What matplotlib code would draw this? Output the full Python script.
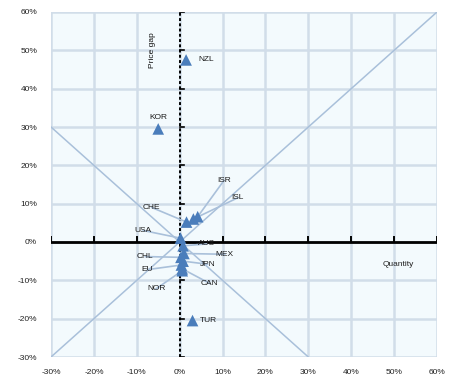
import matplotlib
matplotlib.use("Agg")
import matplotlib.pyplot as plt
from matplotlib.ticker import FuncFormatter

plt.rcParams['font.family'] = ['Liberation Sans', 'DejaVu Sans']

# Country data: quantity change (x) and price gap (y), in percent
countries = ["NZL", "KOR", "ISR", "ISL", "CHE", "USA", "AUS", "MEX", "JPN", "CAN", "CHL", "EU", "NOR", "TUR"]
quantity = [1.5, -5.0, 4.2, 3.2, 1.6, 0.2, 0.8, 1.0, 0.8, 0.6, 0.3, 0.4, 0.6, 3.0]
price_gap = [47.5, 29.5, 6.6, 6.0, 5.2, 1.0, -1.0, -3.0, -5.0, -7.0, -4.0, -6.0, -7.5, -20.5]

# Label anchor points (data coordinates) and whether a leader line is drawn
label_x = [4.3, -5.0, 10.3, 13.5, -6.5, -8.5, 6.3, 10.5, 6.5, 7.0, -8.0, -7.5, -5.5, 4.8]
label_y = [47.6, 32.5, 16.0, 11.5, 9.0, 3.0, -0.5, -3.2, -5.8, -10.8, -3.8, -7.2, -12.2, -20.5]
leader = [False, False, True, True, True, True, True, True, True, True, True, True, True, False]

ticks = [-30, -20, -10, 0, 10, 20, 30, 40, 50, 60]

fig = plt.figure(figsize=(4.49, 3.84), dpi=100)
ax = fig.add_axes([51 / 449, 1 - 357 / 384, 386 / 449, 345 / 384])
ax.set_facecolor("#f3fafd")
ax.set_xlim(-30, 60)
ax.set_ylim(-30, 60)

ax.set_xticks(ticks)
ax.set_yticks(ticks)
fmt = FuncFormatter(lambda v, p: f"{int(v)}%")
ax.xaxis.set_major_formatter(fmt)
ax.yaxis.set_major_formatter(fmt)
ax.tick_params(length=0, labelsize=6, colors="#222222")
ax.tick_params(axis="x", pad=9)
ax.tick_params(axis="y", pad=10)
ax.grid(True, color="#d1dde9", linewidth=1.8)
ax.set_axisbelow(True)
for s in ax.spines.values():
    s.set_visible(False)

line_col = "#a9c0da"
# Reference diagonals
ax.plot([-30, 60], [-30, 60], color=line_col, linewidth=1.1, zorder=2)
ax.plot([-30, 30], [30, -30], color=line_col, linewidth=1.1, zorder=2)

# Central axes
ax.axhline(0, color="black", linewidth=2.0, zorder=3)
ax.axvline(0, color="black", linewidth=1.4, linestyle=(0, (1.5, 1.2)), zorder=3)
for t in ticks:
    if t != 0:
        ax.plot([t, t], [0, 1.2], color="black", linewidth=1.4, zorder=3)
        ax.plot([0, 0.9], [t, t], color="black", linewidth=1.2, zorder=3)

# Leader lines from labels to markers
for qx, py, lx, ly, ld in zip(quantity, price_gap, label_x, label_y, leader):
    if ld:
        ax.plot([lx, qx], [ly, py], color=line_col, linewidth=1.2, zorder=4)

ax.scatter(quantity, price_gap, marker="^", s=70, color="#4a7dbb", edgecolors="none", zorder=5)

for c, lx, ly in zip(countries, label_x, label_y):
    ax.text(lx, ly, c, fontsize=6, ha="left" if c in ("NZL", "TUR") else "center",
            va="center", color="#1a1a1a", zorder=6)

ax.text(-6.3, 50, "Price gap", rotation=90, fontsize=6, ha="center", va="center", color="#111111")
ax.text(51, -5.8, "Quantity", fontsize=6, ha="center", va="center", color="#222222")

fig.savefig("out.png", dpi=100)
